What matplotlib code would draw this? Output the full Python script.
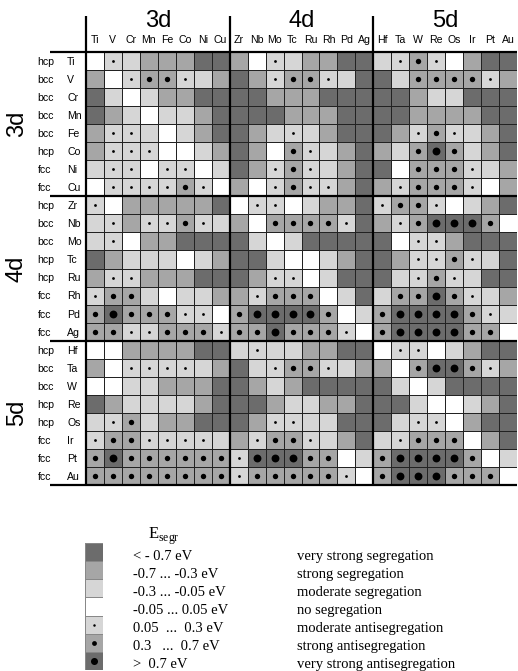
import numpy as np
import matplotlib
matplotlib.use('Agg')
import matplotlib.pyplot as plt
from matplotlib.colors import ListedColormap

# elements in the order used for both hosts (rows) and solutes (columns)
elements = ['Ti', 'V', 'Cr', 'Mn', 'Fe', 'Co', 'Ni', 'Cu',
            'Zr', 'Nb', 'Mo', 'Tc', 'Ru', 'Rh', 'Pd', 'Ag',
            'Hf', 'Ta', 'W', 'Re', 'Os', 'Ir', 'Pt', 'Au']
structures = ['hcp', 'bcc', 'bcc', 'bcc', 'bcc', 'hcp', 'fcc', 'fcc',
              'hcp', 'bcc', 'bcc', 'hcp', 'hcp', 'fcc', 'fcc', 'fcc',
              'hcp', 'bcc', 'bcc', 'hcp', 'hcp', 'fcc', 'fcc', 'fcc']
groups = ['3d', '4d', '5d']

# segregation class: -3 very strong segregation ... 0 none ... +3 very strong antisegregation
seg_3d = [
    [0, 1, -1, -2, -2, -2, -3, -3,   -2, 0, 1, -1, -2, -2, -3, -3,   -1, 1, 2, 1, 0, -2, -3, -3],
    [-2, 0, 1, 2, 2, 1, -1, -2,    -3, -2, 1, 2, 2, 1, -1, -3,    -3, -1, 2, 2, 2, 2, 1, -2],
    [-3, -1, 0, -1, -2, -2, -3, -3, -3, -3, -2, -2, -2, -3, -3, -3, -3, -3, -2, -1, -1, -3, -3, -3],
    [-3, -2, -1, 0, -1, -1, -2, -3, -3, -3, -3, -2, -2, -2, -3, -3, -3, -3, -2, -2, -2, -2, -3, -3],
    [-2, 1, 1, -1, 0, -1, -2, -3,  -3, -2, -1, 1, -1, -2, -3, -3,  -3, -2, 1, 2, 1, -1, -2, -3],
    [-2, 1, 1, 1, 0, 0, -1, -2,    -3, -2, 0, 2, 1, -1, -2, -3,   -2, -1, 2, 3, 2, -1, -2, -3],
    [-1, 1, 1, 0, 1, 1, 0, -1,     -3, -2, 1, 2, 1, -1, -2, -3,   -3, 0, 2, 2, 2, 1, -1, -2],
    [0, 1, 1, 1, 1, 2, 1, 0,       -2, 0, 1, 2, 1, 1, -2, -3,     -2, 1, 2, 2, 2, 1, 0, -2],
]
seg_4d = [
    [1, 0, -2, -2, -2, -2, -2, -3,  0, 1, 1, 0, -1, -2, -2, -3,    1, 2, 2, 1, 0, -1, -2, -3],
    [-1, 1, -2, 1, 1, 2, 1, -1,     -2, 0, 2, 2, 2, 2, 1, -3,      -2, 1, 2, 3, 3, 3, 2, 0],
    [-1, 1, 0, -2, -2, -3, -3, -3,  -3, -1, 0, -1, -3, -3, -3, -3, -3, 0, 1, 1, -2, -3, -3, -3],
    [-3, -2, -1, -1, -1, 0, -1, -2, -3, -3, -1, 0, 0, -1, -2, -3,  -3, -2, 1, 1, 2, 1, -1, -3],
    [-2, 1, 1, -2, -2, -2, -3, -3,  -3, -2, 1, 1, 0, -1, -3, -3,   -3, -1, 1, 2, 1, -1, -3, -3],
    [1, 2, 2, -1, 0, -1, -1, -2,    -2, 1, 2, 2, 2, 0, -1, -3,     -1, 2, 2, 3, 2, 1, -1, -2],
    [2, 3, 2, 2, 2, 1, 1, 0,        2, 3, 3, 3, 3, 2, 0, -1,       2, 3, 3, 3, 3, 2, 1, -1],
    [2, 2, 1, 1, 2, 2, 2, 1,        2, 2, 3, 2, 2, 2, 1, 0,        2, 3, 3, 3, 3, 2, 2, 0],
]
seg_5d = [
    [0, 0, -2, -2, -2, -2, -3, -3,   -1, 1, -1, -1, -2, -2, -3, -3,  0, 1, 1, 0, -1, -2, -3, -3],
    [-2, 0, 1, 1, 1, 1, -1, -2,      -3, -1, 1, 2, 2, 1, -1, -2,     -2, 0, 2, 3, 3, 2, 1, -2],
    [0, 0, -1, -1, -2, -2, -2, -3,   -3, -2, -1, -2, -3, -3, -3, -3, -3, -1, 0, -1, -3, -3, -3, -3],
    [-3, -2, -1, -1, -1, -1, -2, -3, -3, -3, -2, -1, -1, -2, -2, -3, -3, -3, -1, 0, 0, -1, -2, -3],
    [-1, 1, 2, -1, -2, -2, -3, -3,   -3, -2, 1, 1, -1, -1, -3, -3,   -3, -1, 1, 1, 0, -2, -3, -3],
    [1, 2, 2, 1, 1, 1, 1, -1,        -2, 1, 2, 2, 1, -1, -2, -3,     -1, 1, 2, 2, 2, 0, -2, -3],
    [2, 3, 2, 2, 2, 2, 2, 2,         1, 3, 3, 3, 2, 2, 0, -1,        2, 3, 3, 3, 3, 2, 0, -1],
    [2, 2, 2, 2, 2, 2, 2, 2,         1, 2, 2, 2, 2, 2, 1, 0,         2, 3, 3, 3, 2, 2, 2, 0],
]

legend_levels = [-3, -2, -1, 0, 1, 2, 3]
legend_ranges = ['< - 0.7 eV', '-0.7 ... -0.3 eV', '-0.3 ... -0.05 eV', '-0.05 ... 0.05 eV',
                 '0.05  ...  0.3 eV', '0.3   ...  0.7 eV', '>  0.7 eV']
legend_names = ['very strong segregation', 'strong segregation', 'moderate segregation',
                'no segregation', 'moderate antisegregation', 'strong antisegregation',
                'very strong antisegregation']

seg = np.array(seg_3d + seg_4d + seg_5d)
n = len(elements)

# grey shade depends on |E|, dot size on positive E
shades = ListedColormap(['#ffffff', '#d6d6d6', '#a6a6a6', '#6c6c6c'])
dot_size = {1: 4, 2: 15, 3: 32}

fig = plt.figure(figsize=(5.18, 6.71), dpi=100)
W, H = 518, 671
gx0, gx1, gy0, gy1 = 86, 517, 52, 485
ax = fig.add_axes([gx0 / W, 1 - gy1 / H, (gx1 - gx0) / W, (gy1 - gy0) / H])
ax.pcolormesh(np.arange(n + 1), np.arange(n + 1), np.abs(seg), cmap=shades,
              vmin=-0.5, vmax=3.5, edgecolors='#222222', linewidth=0.5)
for lvl, s in dot_size.items():
    r, c = np.nonzero(seg == lvl)
    ax.scatter(c + 0.5, r + 0.5, s=s, c='black', linewidths=0, zorder=3)
ax.set_xlim(0, n)
ax.set_ylim(n, 0)
ax.axis('off')

# block separators
for k in (0, 8, 16, 24):
    ax.plot([-2.0, n], [k, k], color='black', lw=1.6, clip_on=False, solid_capstyle='butt')
for k in (0, 8, 16):
    ax.plot([k, k], [-2.0, n], color='black', lw=1.6, clip_on=False, solid_capstyle='butt')

font = 'Liberation Sans'
for i, el in enumerate(elements):
    ax.text(i + 0.5, -0.4, el, ha='center', va='bottom', fontsize=7.6, family=font)
    ax.text(-2.7, i + 0.55, structures[i], ha='left', va='center', fontsize=7.6, family=font)
    ax.text(-1.05, i + 0.55, el, ha='left', va='center', fontsize=7.6, family=font)
for g, name in enumerate(groups):
    ax.text(8 * g + 4, -1.1, name, ha='center', va='bottom', fontsize=17, family=font)
    ax.text(-3.85, 8 * g + 4, name, ha='center', va='center', fontsize=17,
            family=font, rotation=90)

# legend column
lx0, lx1, ly0, ly1 = 85, 103, 543, 670
lax = fig.add_axes([lx0 / W, 1 - ly1 / H, (lx1 - lx0) / W, (ly1 - ly0) / H])
lev = np.array(legend_levels)[:, None]
lax.pcolormesh([0, 1], np.arange(len(lev) + 1), np.abs(lev), cmap=shades,
               vmin=-0.5, vmax=3.5, edgecolors='#888888', linewidth=0.4)
for i, lvl in enumerate(legend_levels):
    if lvl > 0:
        lax.scatter(0.5, i + 0.5, s=dot_size[lvl] * 0.8, c='black', linewidths=0, zorder=3)
lax.set_xlim(0, 1)
lax.set_ylim(len(lev), 0)
lax.axis('off')

serif = 'Liberation Serif'
fig.text(148 / W, 1 - 536 / H, r'E$_\mathregular{segr}$', fontsize=12, family=serif,
         va='center', ha='left')
step = (ly1 - ly0) / len(legend_levels)
for i in range(len(legend_levels)):
    yc = 1 - (ly0 + step * (i + 0.72)) / H
    fig.text(133 / W, yc, legend_ranges[i], fontsize=10.5, family=serif, va='center')
    fig.text(297 / W, yc, legend_names[i], fontsize=10.5, family=serif, va='center')

fig.savefig('out.png', dpi=100)
